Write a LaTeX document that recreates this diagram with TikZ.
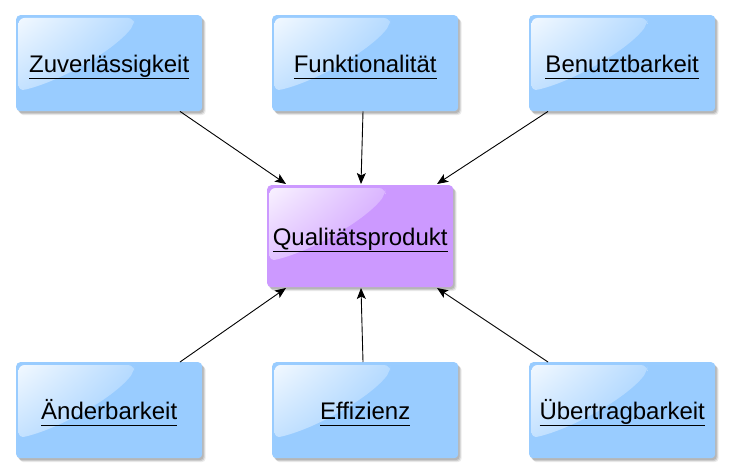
\documentclass[tikz,border=0pt]{standalone}
\usepackage{fontspec}
\setmainfont{Liberation Sans}
\usetikzlibrary{shadows,shadings,arrows.meta}
\definecolor{boxblue}{HTML}{99CCFF}
\definecolor{boxpurple}{HTML}{CC99FF}
\newcommand\ulink[1]{\setbox0\hbox{#1}\rlap{\rule[-6.8pt]{\wd0}{1.4pt}}\box0}
\tikzset{
  qbox/.style={
    rectangle, rounded corners=4pt, fill=#1, inner sep=0pt,
    minimum width=186pt, minimum height=96pt,
    drop shadow={shadow xshift=1.5pt, shadow yshift=-2pt, fill=black, opacity=0.12},
    drop shadow={shadow xshift=2.5pt, shadow yshift=-3pt, fill=black, opacity=0.12},
    drop shadow={shadow xshift=3.5pt, shadow yshift=-4pt, fill=black, opacity=0.08}
  },
  qlabel/.style={font=\fontsize{24}{28}\selectfont, text height=18pt, text depth=0pt, inner sep=0pt},
  conn/.style={draw=black, line width=0.9pt, -{Stealth[length=11pt,width=9pt,inset=2.5pt]}}
}
% glossy highlight and underlined label over a box
\newcommand\glossover[3]{%
  \begin{scope}[shift={(#1.north west)}]
    \clip[rounded corners=6pt] (2.5,3) -- (118,3) -- (118,10)
      .. controls (95,38) and (40,68) .. (2.5,76) -- cycle;
    \shade[upper left=white!90!#2, upper right=white!30!#2,
           lower left=white!40!#2, lower right=#2] (0,0) rectangle (120,80);
  \end{scope}
  \node[qlabel] (#1-label) at (#1.center) {\ulink{#3}};
}
\begin{document}
\begin{tikzpicture}[x=1pt,y=-1pt]
\useasboundingbox (0,0) rectangle (730,473);
\node[qbox=boxblue, anchor=north west] (zu) at (16,15) {};
\node[qbox=boxblue, anchor=north west] (fu) at (272,15) {};
\node[qbox=boxblue, anchor=north west] (be) at (529,15) {};
\node[qbox=boxpurple, anchor=north west, minimum height=102pt] (qu) at (267,185) {};
\node[qbox=boxblue, anchor=north west] (ae) at (16,362) {};
\node[qbox=boxblue, anchor=north west] (ef) at (272,362) {};
\node[qbox=boxblue, anchor=north west] (ue) at (529,362) {};
\glossover{zu}{boxblue}{Zuverlässigkeit}
\glossover{fu}{boxblue}{Funktionalität}
\glossover{be}{boxblue}{Benutztbarkeit}
\glossover{qu}{boxpurple}{Qualitätsprodukt}
\glossover{ae}{boxblue}{Änderbarkeit}
\glossover{ef}{boxblue}{Effizienz}
\glossover{ue}{boxblue}{Übertragbarkeit}
\coordinate (qtl) at (286,184);
\coordinate (qtm) at (361,184);
\coordinate (qtr) at (437,184);
\coordinate (qbl) at (286,288);
\coordinate (qbm) at (361,288);
\coordinate (qbr) at (437,288);
\draw[conn] (zu.south -| 180,0) -- (qtl);
\draw[conn] (fu.south -| 363,0) -- (qtm);
\draw[conn] (be.south -| 548,0) -- (qtr);
\draw[conn] (ae.north -| 180,0) -- (qbl);
\draw[conn] (ef.north -| 363,0) -- (qbm);
\draw[conn] (ue.north -| 548,0) -- (qbr);
\end{tikzpicture}
\end{document}
